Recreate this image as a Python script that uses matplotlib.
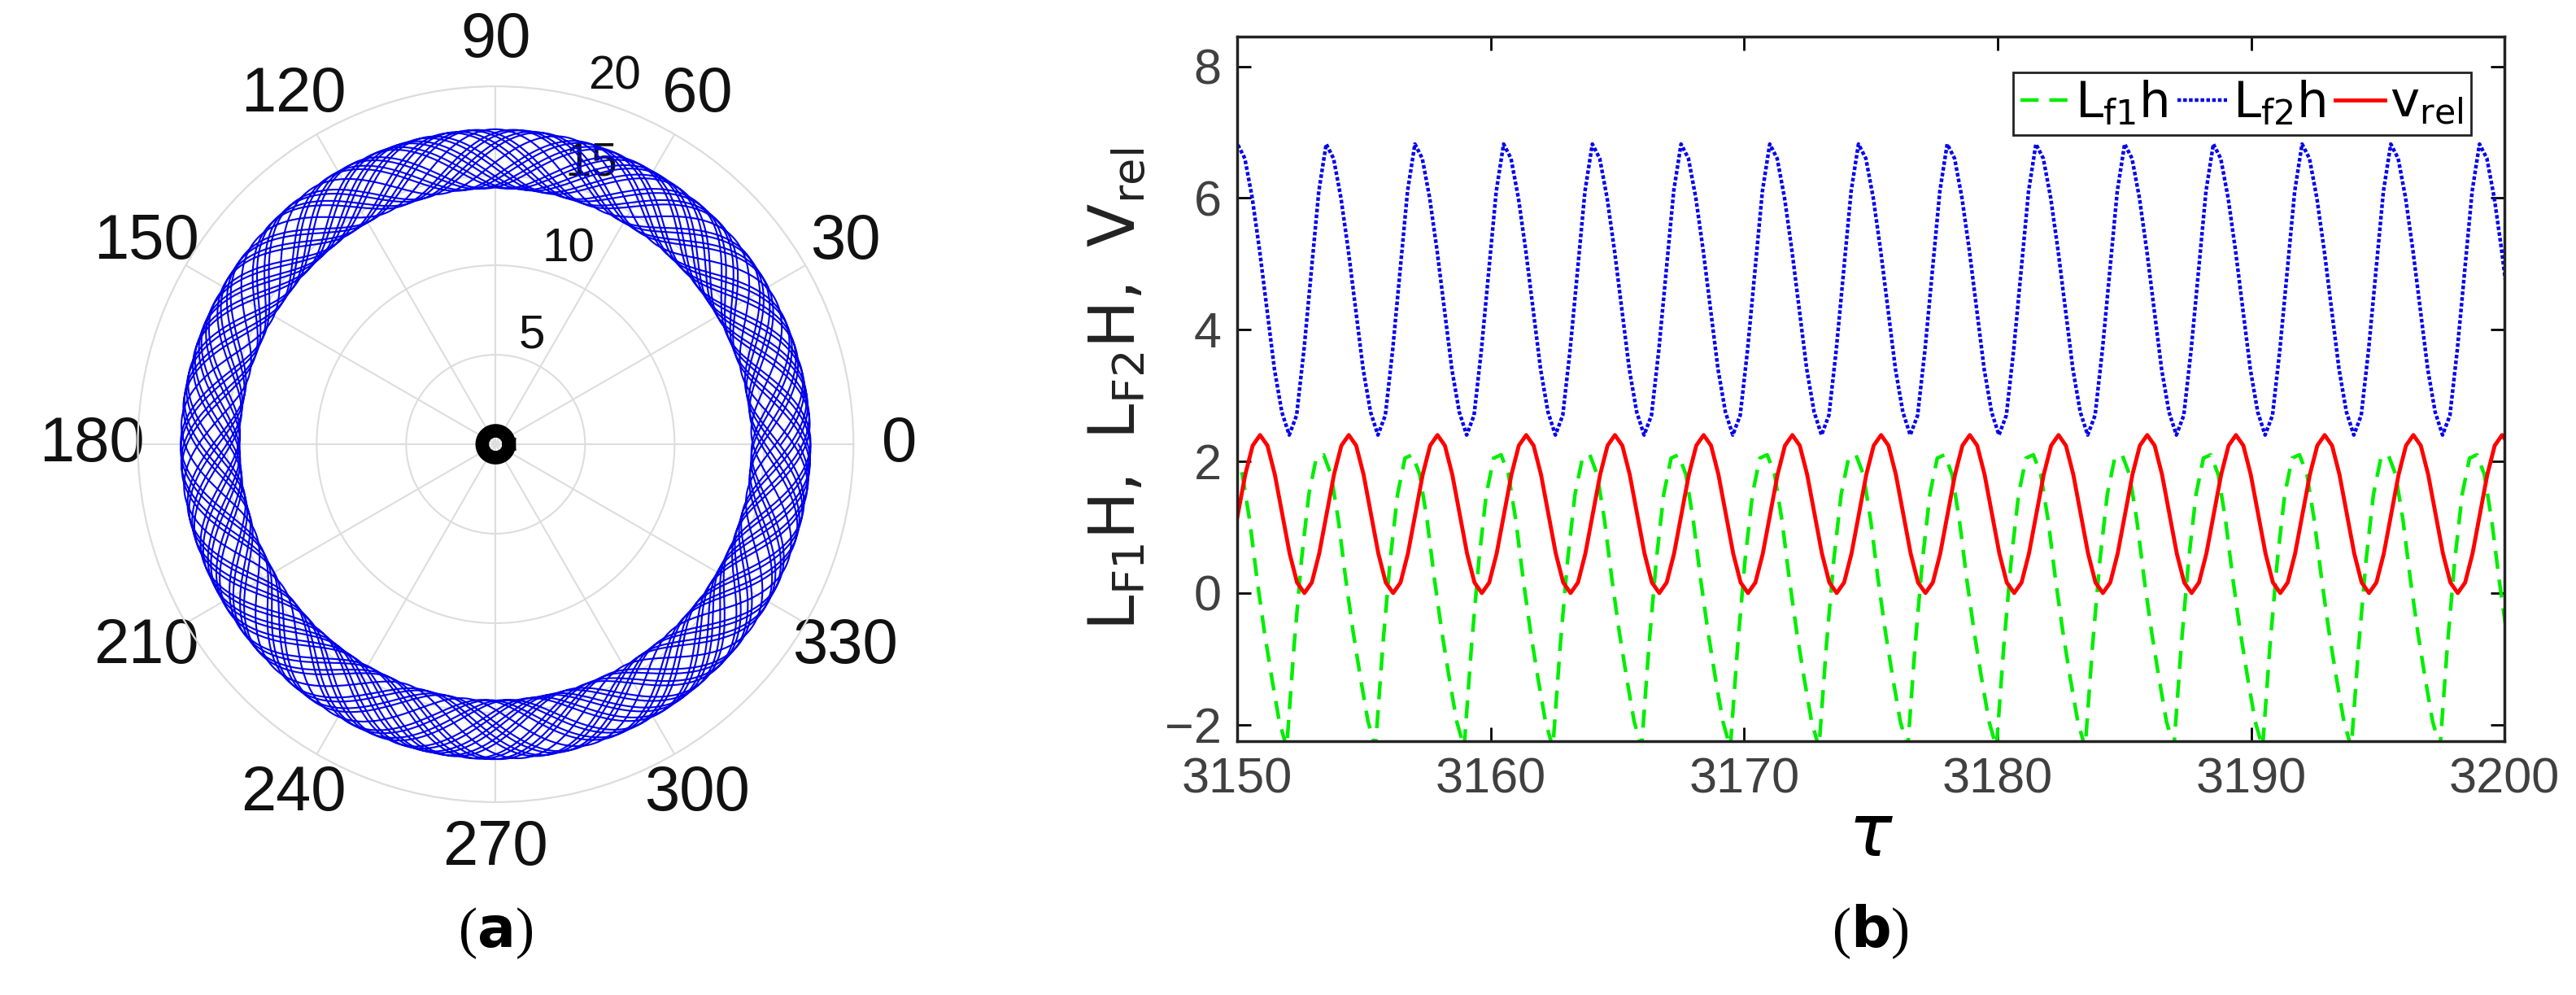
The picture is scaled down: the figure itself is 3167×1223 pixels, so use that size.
import numpy as np
import matplotlib.pyplot as plt

# ---- panel (a): polar orbit ----
RING_MID = 15.95      # mean radius of blue ring
RING_AMP = 1.65       # half width of ring
RING_REVS = 20        # revolutions drawn
RING_LOBES = 7.27     # radial oscillations per revolution
CORE_R = 0.75         # black core radius
r_ticks = [5, 10, 15, 20]
theta_ticks = [0, 30, 60, 90, 120, 150, 180, 210, 240, 270, 300, 330]

# ---- panel (b): time series, one cycle templates (12 samples) ----
PERIOD = 3.5
red_min_times = [3152.65 + PERIOD * k for k in range(-1, 15)]
vrel_cycle = [0.0, 0.16, 0.6, 1.2, 1.8, 2.24, 2.4, 2.24, 1.8, 1.2, 0.6, 0.16]
lf2_cycle = [2.4, 2.7, 3.7, 4.9, 6.1, 6.82, 6.6, 6.0, 5.2, 4.3, 3.4, 2.75]
lf1_cycle = [-2.35, -0.8, 0.5, 1.5, 2.05, 2.1, 1.8, 1.1, 0.2, -0.6, -1.3, -1.95]
LF2_SHIFT = -0.6      # blue min ahead of red min
LF1_SHIFT = -0.7      # green min ahead of red min
x_ticks = [3150, 3160, 3170, 3180, 3190, 3200]
y_ticks = [-2, 0, 2, 4, 6, 8]


def build(cycle, shift):
    ts, vs = [], []
    for t0 in red_min_times:
        for i, v in enumerate(cycle):
            ts.append(t0 + shift + PERIOD * i / len(cycle))
            vs.append(v)
    return np.array(ts), np.array(vs)


fig = plt.figure(figsize=(31.67, 12.23), dpi=100)
plt.rcParams['font.family'] = ['Arial', 'Liberation Sans', 'DejaVu Sans']

axp = fig.add_axes([0.0534, 0.1938, 0.278, 0.7195], projection='polar')
th = np.linspace(0, 2 * np.pi * RING_REVS, 10000)
r = RING_MID + RING_AMP * np.sin(RING_LOBES * th)
axp.plot(th, r, color='#0000ee', lw=1.5)
tc = np.linspace(0, 2 * np.pi, 200)
axp.plot(tc, np.full_like(tc, CORE_R), color='black', lw=12)
axp.set_ylim(0, 20)
axp.set_yticks(r_ticks)
axp.set_yticklabels([str(v) for v in r_ticks], fontsize=42, color='#111111')
axp.set_rlabel_position(75)
axp.set_xticks(np.deg2rad(theta_ticks))
axp.set_xticklabels([str(v) for v in theta_ticks], fontsize=56, color='#111111')
axp.tick_params(axis='x', pad=30)
axp.grid(color='#dddddd', lw=1.5)
axp.spines['polar'].set_color('#dddddd')
axp.spines['polar'].set_linewidth(1.5)

# panel (b)
ax = fig.add_axes([0.4803, 0.2551, 0.492, 0.708])
t1, v1 = build(lf1_cycle, LF1_SHIFT)
t2, v2 = build(lf2_cycle, LF2_SHIFT)
t3, v3 = build(vrel_cycle, 0.0)
ax.plot(t1, v1, color='#00ee00', ls=(0, (5, 3)), lw=3.2, label=r'$\mathrm{L_{f1}h}$')
ax.plot(t2, v2, color='#0000ee', ls=(0, (1, 0.6)), lw=3.2, label=r'$\mathrm{L_{f2}h}$')
ax.plot(t3, v3, color='#ff0000', ls='-', lw=3.5, label=r'$\mathrm{v_{rel}}$')
ax.set_xlim(3150, 3200)
ax.set_ylim(-2.25, 8.45)
ax.set_xticks(x_ticks)
ax.set_yticks(y_ticks)
ax.tick_params(labelsize=44, labelcolor='#404040', direction='in', length=12,
               width=2, top=True, right=True, pad=14)
for s in ax.spines.values():
    s.set_linewidth(2.5)
    s.set_color('#222222')
ax.set_xlabel(r'$\tau$', fontsize=64, labelpad=0)
ax.set_ylabel(r'$\mathrm{L_{F1}H,\ L_{F2}H,\ V_{rel}}$', fontsize=56, color='#222222', labelpad=14)
ax.legend(loc='upper right', ncol=3, fontsize=44, handlelength=1.0, handletextpad=0.1,
          columnspacing=0.2, borderpad=0.15, fancybox=False, edgecolor='#222222',
          framealpha=1, bbox_to_anchor=(0.993, 0.985)).get_frame().set_linewidth(2)

fig.text(0.1923, 0.048, r'($\mathbf{a}$)', fontsize=50, ha='center', family='Liberation Serif')
fig.text(0.726, 0.048, r'($\mathbf{b}$)', fontsize=50, ha='center', family='Liberation Serif')

fig.savefig('out.png', dpi=100)
